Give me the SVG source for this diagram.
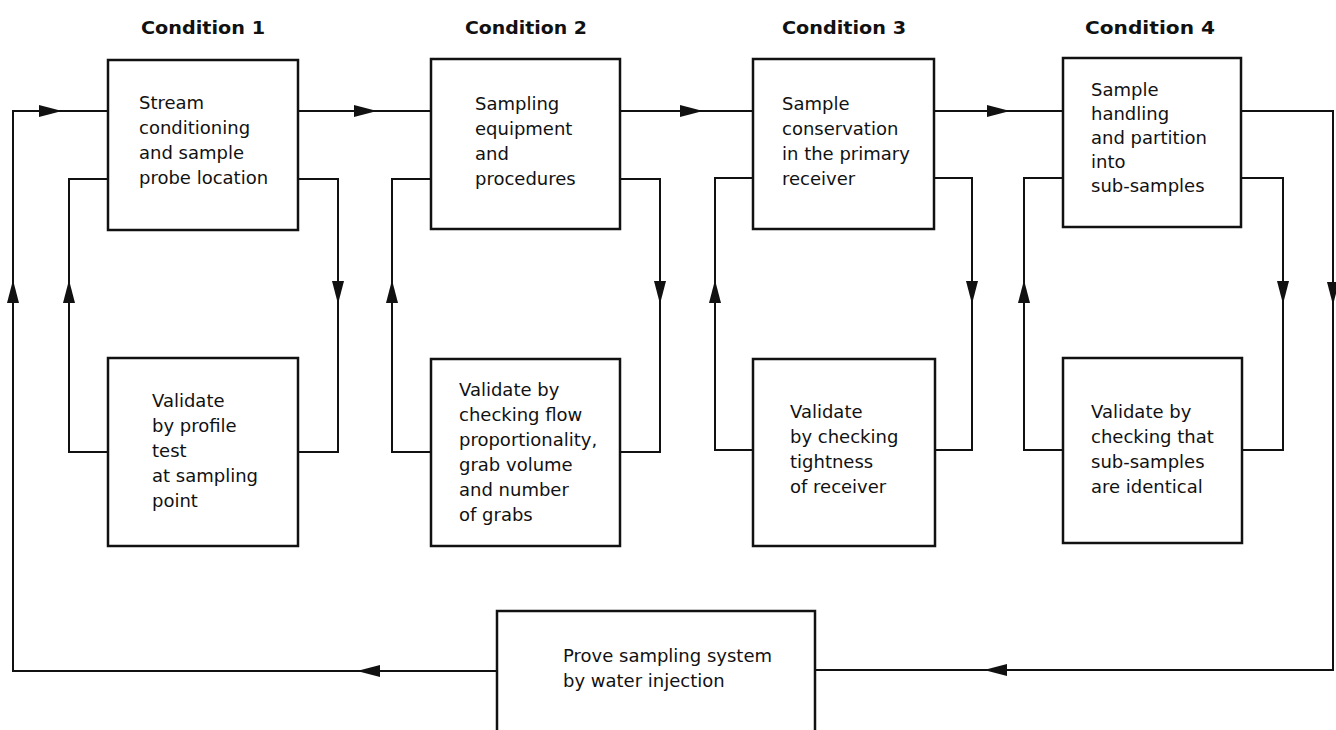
<svg xmlns="http://www.w3.org/2000/svg" xmlns:xlink="http://www.w3.org/1999/xlink" width="1336" height="730" viewBox="0 0 1336 730">
<style>
.box{fill:#fff;stroke:#111;stroke-width:2.5}
.ln{fill:none;stroke:#111;stroke-width:2;stroke-linejoin:miter}
.t{font-family:"DejaVu Sans","Liberation Sans",sans-serif;font-size:18px;fill:#111}
.h{font-family:"DejaVu Sans","Liberation Sans",sans-serif;font-size:17.5px;font-weight:bold;fill:#111}
.ah{fill:#111}
</style>
<defs>
<path id="ah" d="M0,0 L-23,-6 L-23,6 Z"/>
</defs>
<rect width="1336" height="730" fill="#fff"/>

<g id="titles">
<text class="h" x="141" y="34" textLength="124" lengthAdjust="spacingAndGlyphs">Condition 1</text>
<text class="h" x="465" y="34" textLength="122" lengthAdjust="spacingAndGlyphs">Condition 2</text>
<text class="h" x="782" y="34" textLength="124" lengthAdjust="spacingAndGlyphs">Condition 3</text>
<text class="h" x="1085" y="34" textLength="130" lengthAdjust="spacingAndGlyphs">Condition 4</text>
</g>

<g id="connectors">
<polyline class="ln" points="497,671 13,671 13,111 108,111"/>
<line class="ln" x1="298" y1="111" x2="431" y2="111"/>
<line class="ln" x1="620" y1="111" x2="753" y2="111"/>
<line class="ln" x1="934" y1="111" x2="1063" y2="111"/>
<polyline class="ln" points="1241,111 1333,111 1333,670 815,670"/>
<polyline class="ln" points="108,452 69,452 69,179 108,179"/>
<polyline class="ln" points="298,179 338,179 338,452 298,452"/>
<polyline class="ln" points="431,452 392,452 392,179 431,179"/>
<polyline class="ln" points="620,179 660,179 660,452 620,452"/>
<polyline class="ln" points="753,450 715,450 715,178 753,178"/>
<polyline class="ln" points="934,178 972,178 972,450 934,450"/>
<polyline class="ln" points="1063,450 1024,450 1024,178 1063,178"/>
<polyline class="ln" points="1241,178 1283,178 1283,450 1241,450"/>
<g class="ah">
<use xlink:href="#ah" transform="translate(62,111)"/>
<use xlink:href="#ah" transform="translate(377,111)"/>
<use xlink:href="#ah" transform="translate(703,111)"/>
<use xlink:href="#ah" transform="translate(1010,111)"/>
<use xlink:href="#ah" transform="translate(1333,305) rotate(90)"/>
<use xlink:href="#ah" transform="translate(984,670) rotate(180)"/>
<use xlink:href="#ah" transform="translate(357,671) rotate(180)"/>
<use xlink:href="#ah" transform="translate(13,280) rotate(-90)"/>
<use xlink:href="#ah" transform="translate(69,280) rotate(-90)"/>
<use xlink:href="#ah" transform="translate(338,304) rotate(90)"/>
<use xlink:href="#ah" transform="translate(392,280) rotate(-90)"/>
<use xlink:href="#ah" transform="translate(660,304) rotate(90)"/>
<use xlink:href="#ah" transform="translate(715,280) rotate(-90)"/>
<use xlink:href="#ah" transform="translate(972,304) rotate(90)"/>
<use xlink:href="#ah" transform="translate(1024,280) rotate(-90)"/>
<use xlink:href="#ah" transform="translate(1283,304) rotate(90)"/>
</g>
</g>

<g id="c1-top">
<rect class="box" x="108" y="60" width="190" height="170"/>
<text class="t" x="139" y="109">Stream</text>
<text class="t" x="139" y="134">conditioning</text>
<text class="t" x="139" y="159">and sample</text>
<text class="t" x="139" y="184">probe location</text>
</g>
<g id="c1-bottom">
<rect class="box" x="108" y="358" width="190" height="188"/>
<text class="t" x="152" y="407">Validate</text>
<text class="t" x="152" y="432">by profile</text>
<text class="t" x="152" y="457">test</text>
<text class="t" x="152" y="482">at sampling</text>
<text class="t" x="152" y="507">point</text>
</g>
<g id="c2-top">
<rect class="box" x="431" y="59" width="189" height="170"/>
<text class="t" x="475" y="110">Sampling</text>
<text class="t" x="475" y="135">equipment</text>
<text class="t" x="475" y="160">and</text>
<text class="t" x="475" y="185">procedures</text>
</g>
<g id="c2-bottom">
<rect class="box" x="431" y="359" width="189" height="187"/>
<text class="t" x="459" y="396">Validate by</text>
<text class="t" x="459" y="421">checking flow</text>
<text class="t" x="459" y="446">proportionality,</text>
<text class="t" x="459" y="471">grab volume</text>
<text class="t" x="459" y="496">and number</text>
<text class="t" x="459" y="521">of grabs</text>
</g>
<g id="c3-top">
<rect class="box" x="753" y="59" width="181" height="170"/>
<text class="t" x="782" y="110">Sample</text>
<text class="t" x="782" y="135">conservation</text>
<text class="t" x="782" y="160">in the primary</text>
<text class="t" x="782" y="185">receiver</text>
</g>
<g id="c3-bottom">
<rect class="box" x="753" y="359" width="182" height="187"/>
<text class="t" x="790" y="418">Validate</text>
<text class="t" x="790" y="443">by checking</text>
<text class="t" x="790" y="468">tightness</text>
<text class="t" x="790" y="493">of receiver</text>
</g>
<g id="c4-top">
<rect class="box" x="1063" y="58" width="178" height="169"/>
<text class="t" x="1091" y="96">Sample</text>
<text class="t" x="1091" y="120">handling</text>
<text class="t" x="1091" y="144">and partition</text>
<text class="t" x="1091" y="168">into</text>
<text class="t" x="1091" y="192">sub-samples</text>
</g>
<g id="c4-bottom">
<rect class="box" x="1063" y="358" width="179" height="185"/>
<text class="t" x="1091" y="418">Validate by</text>
<text class="t" x="1091" y="443">checking that</text>
<text class="t" x="1091" y="468">sub-samples</text>
<text class="t" x="1091" y="493">are identical</text>
</g>
<g id="prove">
<rect class="box" x="497" y="611" width="318" height="140"/>
<text class="t" x="563" y="662">Prove sampling system</text>
<text class="t" x="563" y="687">by water injection</text>
</g>
</svg>
